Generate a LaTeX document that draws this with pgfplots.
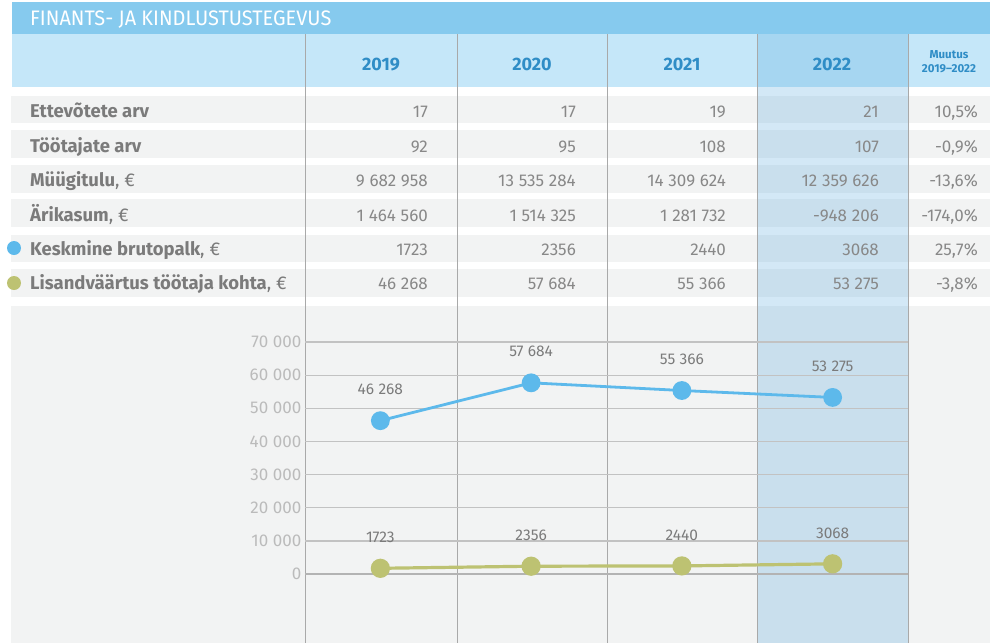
\documentclass[border=0pt]{standalone}
\usepackage{pgfplots}
\pgfplotsset{compat=1.18}
\usepackage{fontspec}
\setmainfont{Fira Sans}
\definecolor{titlebar}{HTML}{86CAEE}
\definecolor{headbg}{HTML}{C5E7F9}
\definecolor{rowgray}{HTML}{F2F3F3}
\definecolor{tint}{HTML}{3A9AD9}
\definecolor{vline}{HTML}{A9A9A9}
\definecolor{yearblue}{HTML}{2F8DC6}
\definecolor{labgray}{HTML}{7B7B7B}
\definecolor{numgray}{HTML}{888888}
\definecolor{tickgray}{HTML}{BBBBBB}
\definecolor{gridgray}{HTML}{C2C2C2}
\definecolor{zerogray}{HTML}{B3B3B3}
\definecolor{lineblue}{HTML}{5DB9EB}
\definecolor{linegreen}{HTML}{BDC272}
\newcommand{\sep}{\kern0.28em}
\tikzset{
  numtxt/.style={text=numgray, font=\fontsize{17}{17}\selectfont, inner sep=0pt},
  labtxt/.style={text=labgray, font=\fontsize{18.5}{18}\selectfont, inner sep=0pt, anchor=base west},
}
\newcommand{\rowvals}[6]{%
  \node[numtxt, anchor=base east] at (428,#1) {#2};
  \node[numtxt, anchor=base east] at (576,#1) {#3};
  \node[numtxt, anchor=base east] at (726,#1) {#4};
  \node[numtxt, anchor=base east] at (879,#1) {#5};
  \node[numtxt, anchor=base east] at (978,#1) {#6};
}
\begin{document}
\begin{tikzpicture}
\begin{scope}[x=1pt,y=-1pt]
  \useasboundingbox (0,0) rectangle (990,643);
  \fill[white] (0,0) rectangle (990,643);
  % title bar and header
  \fill[titlebar] (12,2) rectangle (990,34);
  \fill[headbg] (12,34) rectangle (990,87);
  % row bands
  \foreach \a/\b in {96/123,130/158,165/193,199/227,235/262,269/297,306/643}
    \fill[rowgray] (11,\a) rectangle (990,\b);
  % highlighted column
  \fill[tint, fill opacity=0.22] (757,34) rectangle (908,643);
  % vertical lines
  \foreach \x in {305,457,607,757,908}
    \draw[vline, line width=1pt] (\x,34) -- (\x,643);
\end{scope}

\begin{axis}[
  at={(305pt,-643pt)}, anchor=south west,
  scale only axis, width=603pt, height=301pt,
  xmin=-0.5, xmax=3.5, ymin=-20817, ymax=70000,
  clip=false,
  axis line style={draw=none},
  xtick=\empty,
  ytick={10000,20000,...,70000},
  extra y ticks={0},
  extra y tick style={grid style={color=zerogray, line width=2.6pt}},
  scaled y ticks=false,
  major tick length=0pt,
  ymajorgrids,
  grid style={color=gridgray, line width=1.3pt},
  yticklabel style={font=\fontsize{17}{17}\selectfont, text=tickgray},
  /pgf/number format/1000 sep={\sep},
  /pgf/number format/assume math mode=true,
  point meta=explicit symbolic,
  nodes near coords,
  every node near coord/.append style={anchor=center, yshift=31pt, font=\fontsize{15.5}{15}\selectfont, text=labgray},
]
\addplot[color=lineblue, line width=2.8pt, mark=*, mark size=8pt, mark options={fill=lineblue, draw=none, solid}]
  coordinates {(0,46268)[46\sep268] (1,57684)[57\sep684] (2,55366)[55\sep366] (3,53275)[53\sep275]};
\addplot[color=linegreen, line width=3.2pt, mark=*, mark size=8pt, mark options={fill=linegreen, draw=none, solid}]
  coordinates {(0,1723)[1723] (1,2356)[2356] (2,2440)[2440] (3,3068)[3068]};
\end{axis}

\begin{scope}[x=1pt,y=-1pt]
  % title
  \node[anchor=base west, inner sep=0pt, text=white] at (30,25)
    {\scalebox{0.95}[1]{\fontsize{21}{21}\selectfont FINANTS- JA KINDLUSTUSTEGEVUS}};
  % years
  \foreach \x/\y in {381/2019,532/2020,682/2021,832/2022}
    \node[anchor=base, inner sep=0pt, text=yearblue, font=\fontsize{18}{18}\selectfont\bfseries] at (\x,70) {\y};
  \node[anchor=base, inner sep=0pt, text=yearblue, font=\fontsize{11.5}{12}\selectfont\bfseries] at (949,58) {Muutus};
  \node[anchor=base, inner sep=0pt, text=yearblue, font=\fontsize{11.5}{12}\selectfont\bfseries] at (949,72) {2019--2022};
  % legend dots
  \fill[lineblue] (14,248) circle (7);
  \fill[linegreen] (14,283) circle (7);
  % row labels
  \node[labtxt] at (30,117) {\textbf{Ettevõtete arv}};
  \node[labtxt] at (30,152) {\textbf{Töötajate arv}};
  \node[labtxt] at (30,186) {\textbf{Müügitulu}, €};
  \node[labtxt] at (30,221) {\textbf{Ärikasum}, €};
  \node[labtxt] at (30,255) {\textbf{Keskmine brutopalk}, €};
  \node[labtxt] at (30,289) {\textbf{Lisandväärtus töötaja kohta}, €};
  % values
  \rowvals{117}{17}{17}{19}{21}{10,5\%}
  \rowvals{152}{92}{95}{108}{107}{-0,9\%}
  \rowvals{186}{9\sep682\sep958}{13\sep535\sep284}{14\sep309\sep624}{12\sep359\sep626}{-13,6\%}
  \rowvals{221}{1\sep464\sep560}{1\sep514\sep325}{1\sep281\sep732}{-948\sep206}{-174,0\%}
  \rowvals{255}{1723}{2356}{2440}{3068}{25,7\%}
  \rowvals{289}{46\sep268}{57\sep684}{55\sep366}{53\sep275}{-3,8\%}
\end{scope}
\end{tikzpicture}
\end{document}
